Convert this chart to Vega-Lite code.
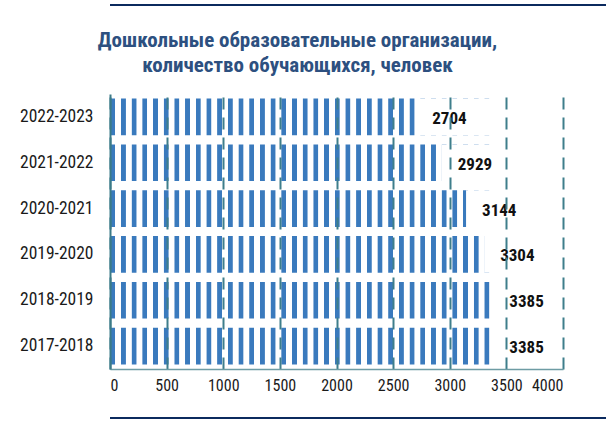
{
  "$schema": "https://vega.github.io/schema/vega-lite/v6.json",
  "padding": {"left": 9, "top": 4, "right": 0, "bottom": 0},
  "background": "white",
  "config": {"view": {"stroke": null}, "font": "Roboto Condensed, DejaVu Sans Condensed, Liberation Sans"},
  "spacing": 24,
  "vconcat": [
    {
      "width": 597, "height": 2,
      "view": {"fill": "#0b2a5e", "stroke": null},
      "data": {"values": []},
      "mark": "point",
      "encoding": {}
    },
    {
      "width": 453, "height": 275,
      "title": {
        "text": ["Дошкольные образовательные организации,", "количество обучающихся, человек"],
        "font": "Roboto Condensed, DejaVu Sans Condensed, Liberation Sans", "fontSize": 21, "fontWeight": "bold",
        "color": "#2d5080", "lineHeight": 25, "anchor": "middle", "frame": "group",
        "dx": -39, "offset": 18
      },
      "data": {"values": [
        {"period": "2022-2023", "value": 2704},
        {"period": "2021-2022", "value": 2929},
        {"period": "2020-2021", "value": 3144},
        {"period": "2019-2020", "value": 3304},
        {"period": "2018-2019", "value": 3385},
        {"period": "2017-2018", "value": 3385}
      ]},
      "encoding": {
        "y": {
          "field": "period", "type": "nominal", "sort": "descending",
          "scale": {"paddingInner": 0.2, "paddingOuter": 0.1},
          "axis": {
            "title": null, "ticks": false, "domainColor": "#3b7a87", "domainWidth": 2,
            "labelFont": "Roboto Condensed, DejaVu Sans Condensed, Liberation Sans", "labelFontSize": 17.5, "labelColor": "#1a1a1a",
            "labelPadding": 17, "minExtent": 101, "zindex": 1
          }
        }
      },
      "layer": [
        {
          "mark": {"type": "bar", "fill": {
            "gradient": "linear", "x1": 0, "y1": 0, "x2": 1, "y2": 0,
            "stops": [
              {"offset": 0, "color": "#ffffff"}, {"offset": 0.0015, "color": "#3a7abd"}, {"offset": 0.0105, "color": "#3a7abd"}, {"offset": 0.012, "color": "#ffffff"},
              {"offset": 0.0236, "color": "#ffffff"}, {"offset": 0.0251, "color": "#3a7abd"}, {"offset": 0.0341, "color": "#3a7abd"}, {"offset": 0.0356, "color": "#ffffff"},
              {"offset": 0.0472, "color": "#ffffff"}, {"offset": 0.0487, "color": "#3a7abd"}, {"offset": 0.0577, "color": "#3a7abd"}, {"offset": 0.0592, "color": "#ffffff"},
              {"offset": 0.0708, "color": "#ffffff"}, {"offset": 0.0723, "color": "#3a7abd"}, {"offset": 0.0813, "color": "#3a7abd"}, {"offset": 0.0828, "color": "#ffffff"},
              {"offset": 0.0944, "color": "#ffffff"}, {"offset": 0.0959, "color": "#3a7abd"}, {"offset": 0.1049, "color": "#3a7abd"}, {"offset": 0.1064, "color": "#ffffff"},
              {"offset": 0.118, "color": "#ffffff"}, {"offset": 0.1195, "color": "#3a7abd"}, {"offset": 0.1285, "color": "#3a7abd"}, {"offset": 0.13, "color": "#ffffff"},
              {"offset": 0.1416, "color": "#ffffff"}, {"offset": 0.1431, "color": "#3a7abd"}, {"offset": 0.1521, "color": "#3a7abd"}, {"offset": 0.1536, "color": "#ffffff"},
              {"offset": 0.1652, "color": "#ffffff"}, {"offset": 0.1667, "color": "#3a7abd"}, {"offset": 0.1757, "color": "#3a7abd"}, {"offset": 0.1772, "color": "#ffffff"},
              {"offset": 0.1888, "color": "#ffffff"}, {"offset": 0.1903, "color": "#3a7abd"}, {"offset": 0.1993, "color": "#3a7abd"}, {"offset": 0.2008, "color": "#ffffff"},
              {"offset": 0.2124, "color": "#ffffff"}, {"offset": 0.2139, "color": "#3a7abd"}, {"offset": 0.2229, "color": "#3a7abd"}, {"offset": 0.2244, "color": "#ffffff"},
              {"offset": 0.236, "color": "#ffffff"}, {"offset": 0.2375, "color": "#3a7abd"}, {"offset": 0.2465, "color": "#3a7abd"}, {"offset": 0.248, "color": "#ffffff"},
              {"offset": 0.2596, "color": "#ffffff"}, {"offset": 0.2611, "color": "#3a7abd"}, {"offset": 0.2701, "color": "#3a7abd"}, {"offset": 0.2716, "color": "#ffffff"},
              {"offset": 0.2832, "color": "#ffffff"}, {"offset": 0.2847, "color": "#3a7abd"}, {"offset": 0.2937, "color": "#3a7abd"}, {"offset": 0.2952, "color": "#ffffff"},
              {"offset": 0.3068, "color": "#ffffff"}, {"offset": 0.3083, "color": "#3a7abd"}, {"offset": 0.3173, "color": "#3a7abd"}, {"offset": 0.3188, "color": "#ffffff"},
              {"offset": 0.3304, "color": "#ffffff"}, {"offset": 0.3319, "color": "#3a7abd"}, {"offset": 0.3409, "color": "#3a7abd"}, {"offset": 0.3424, "color": "#ffffff"},
              {"offset": 0.354, "color": "#ffffff"}, {"offset": 0.3555, "color": "#3a7abd"}, {"offset": 0.3645, "color": "#3a7abd"}, {"offset": 0.366, "color": "#ffffff"},
              {"offset": 0.3776, "color": "#ffffff"}, {"offset": 0.3791, "color": "#3a7abd"}, {"offset": 0.3881, "color": "#3a7abd"}, {"offset": 0.3896, "color": "#ffffff"},
              {"offset": 0.4012, "color": "#ffffff"}, {"offset": 0.4027, "color": "#3a7abd"}, {"offset": 0.4117, "color": "#3a7abd"}, {"offset": 0.4132, "color": "#ffffff"},
              {"offset": 0.4248, "color": "#ffffff"}, {"offset": 0.4263, "color": "#3a7abd"}, {"offset": 0.4353, "color": "#3a7abd"}, {"offset": 0.4368, "color": "#ffffff"},
              {"offset": 0.4484, "color": "#ffffff"}, {"offset": 0.4499, "color": "#3a7abd"}, {"offset": 0.4589, "color": "#3a7abd"}, {"offset": 0.4604, "color": "#ffffff"},
              {"offset": 0.472, "color": "#ffffff"}, {"offset": 0.4735, "color": "#3a7abd"}, {"offset": 0.4825, "color": "#3a7abd"}, {"offset": 0.484, "color": "#ffffff"},
              {"offset": 0.4956, "color": "#ffffff"}, {"offset": 0.4971, "color": "#3a7abd"}, {"offset": 0.5061, "color": "#3a7abd"}, {"offset": 0.5076, "color": "#ffffff"},
              {"offset": 0.5192, "color": "#ffffff"}, {"offset": 0.5207, "color": "#3a7abd"}, {"offset": 0.5297, "color": "#3a7abd"}, {"offset": 0.5312, "color": "#ffffff"},
              {"offset": 0.5428, "color": "#ffffff"}, {"offset": 0.5443, "color": "#3a7abd"}, {"offset": 0.5533, "color": "#3a7abd"}, {"offset": 0.5548, "color": "#ffffff"},
              {"offset": 0.5664, "color": "#ffffff"}, {"offset": 0.5679, "color": "#3a7abd"}, {"offset": 0.5769, "color": "#3a7abd"}, {"offset": 0.5784, "color": "#ffffff"},
              {"offset": 0.59, "color": "#ffffff"}, {"offset": 0.5915, "color": "#3a7abd"}, {"offset": 0.6005, "color": "#3a7abd"}, {"offset": 0.602, "color": "#ffffff"},
              {"offset": 0.6136, "color": "#ffffff"}, {"offset": 0.6151, "color": "#3a7abd"}, {"offset": 0.6241, "color": "#3a7abd"}, {"offset": 0.6256, "color": "#ffffff"},
              {"offset": 0.6372, "color": "#ffffff"}, {"offset": 0.6387, "color": "#3a7abd"}, {"offset": 0.6477, "color": "#3a7abd"}, {"offset": 0.6492, "color": "#ffffff"},
              {"offset": 0.6608, "color": "#ffffff"}, {"offset": 0.6623, "color": "#3a7abd"}, {"offset": 0.6713, "color": "#3a7abd"}, {"offset": 0.6728, "color": "#ffffff"},
              {"offset": 0.6844, "color": "#ffffff"}, {"offset": 0.6859, "color": "#3a7abd"}, {"offset": 0.6949, "color": "#3a7abd"}, {"offset": 0.6964, "color": "#ffffff"},
              {"offset": 0.708, "color": "#ffffff"}, {"offset": 0.7095, "color": "#3a7abd"}, {"offset": 0.7185, "color": "#3a7abd"}, {"offset": 0.72, "color": "#ffffff"},
              {"offset": 0.7316, "color": "#ffffff"}, {"offset": 0.7331, "color": "#3a7abd"}, {"offset": 0.7421, "color": "#3a7abd"}, {"offset": 0.7436, "color": "#ffffff"},
              {"offset": 0.7552, "color": "#ffffff"}, {"offset": 0.7567, "color": "#3a7abd"}, {"offset": 0.7657, "color": "#3a7abd"}, {"offset": 0.7672, "color": "#ffffff"},
              {"offset": 0.7788, "color": "#ffffff"}, {"offset": 0.7803, "color": "#3a7abd"}, {"offset": 0.7893, "color": "#3a7abd"}, {"offset": 0.7908, "color": "#ffffff"},
              {"offset": 0.8024, "color": "#ffffff"}, {"offset": 0.8039, "color": "#3a7abd"}, {"offset": 0.8129, "color": "#3a7abd"}, {"offset": 0.8144, "color": "#ffffff"},
              {"offset": 0.826, "color": "#ffffff"}, {"offset": 0.8275, "color": "#3a7abd"}, {"offset": 0.8365, "color": "#3a7abd"}, {"offset": 0.838, "color": "#ffffff"},
              {"offset": 1, "color": "#ffffff"}
            ]
          }},
          "encoding": {
            "x": {
              "datum": 0, "type": "quantitative", "title": null,
              "scale": {"domain": [0, 4000], "nice": false},
              "axis": {
                "title": null, "values": [0, 500, 1000, 1500, 2000, 2500, 3000, 3500, 4000], "format": "d",
                "grid": true, "gridDash": [12, 8], "gridColor": "#3e7e8b", "gridWidth": 2,
                "ticks": false, "domainColor": "#6e9ca4", "domainWidth": 1.5,
                "labelFont": "Roboto Condensed, DejaVu Sans Condensed, Liberation Sans", "labelFontSize": 16, "labelColor": "#1a1a1a",
                "labelPadding": 8, "minExtent": 20, "zindex": 1
              }
            },
            "x2": {"datum": 4000}
          }
        },
        {
          "mark": {"type": "bar", "fill": "#ffffff"},
          "encoding": {
            "x": {"field": "value", "type": "quantitative", "title": null},
            "x2": {"datum": 4000}
          }
        },
        {
          "mark": {"type": "text", "align": "left", "baseline": "middle", "dx": 16, "dy": 2,
                   "font": "Roboto Condensed, DejaVu Sans Condensed, Liberation Sans", "fontSize": 17, "fontWeight": "bold", "color": "#111111"},
          "encoding": {
            "x": {"field": "value", "type": "quantitative", "title": null},
            "text": {"field": "value", "type": "quantitative", "format": "d"}
          }
        }
      ]
    },
    {
      "width": 597, "height": 2,
      "view": {"fill": "#0b2a5e", "stroke": null},
      "data": {"values": []},
      "mark": "point",
      "encoding": {}
    }
  ]
}
